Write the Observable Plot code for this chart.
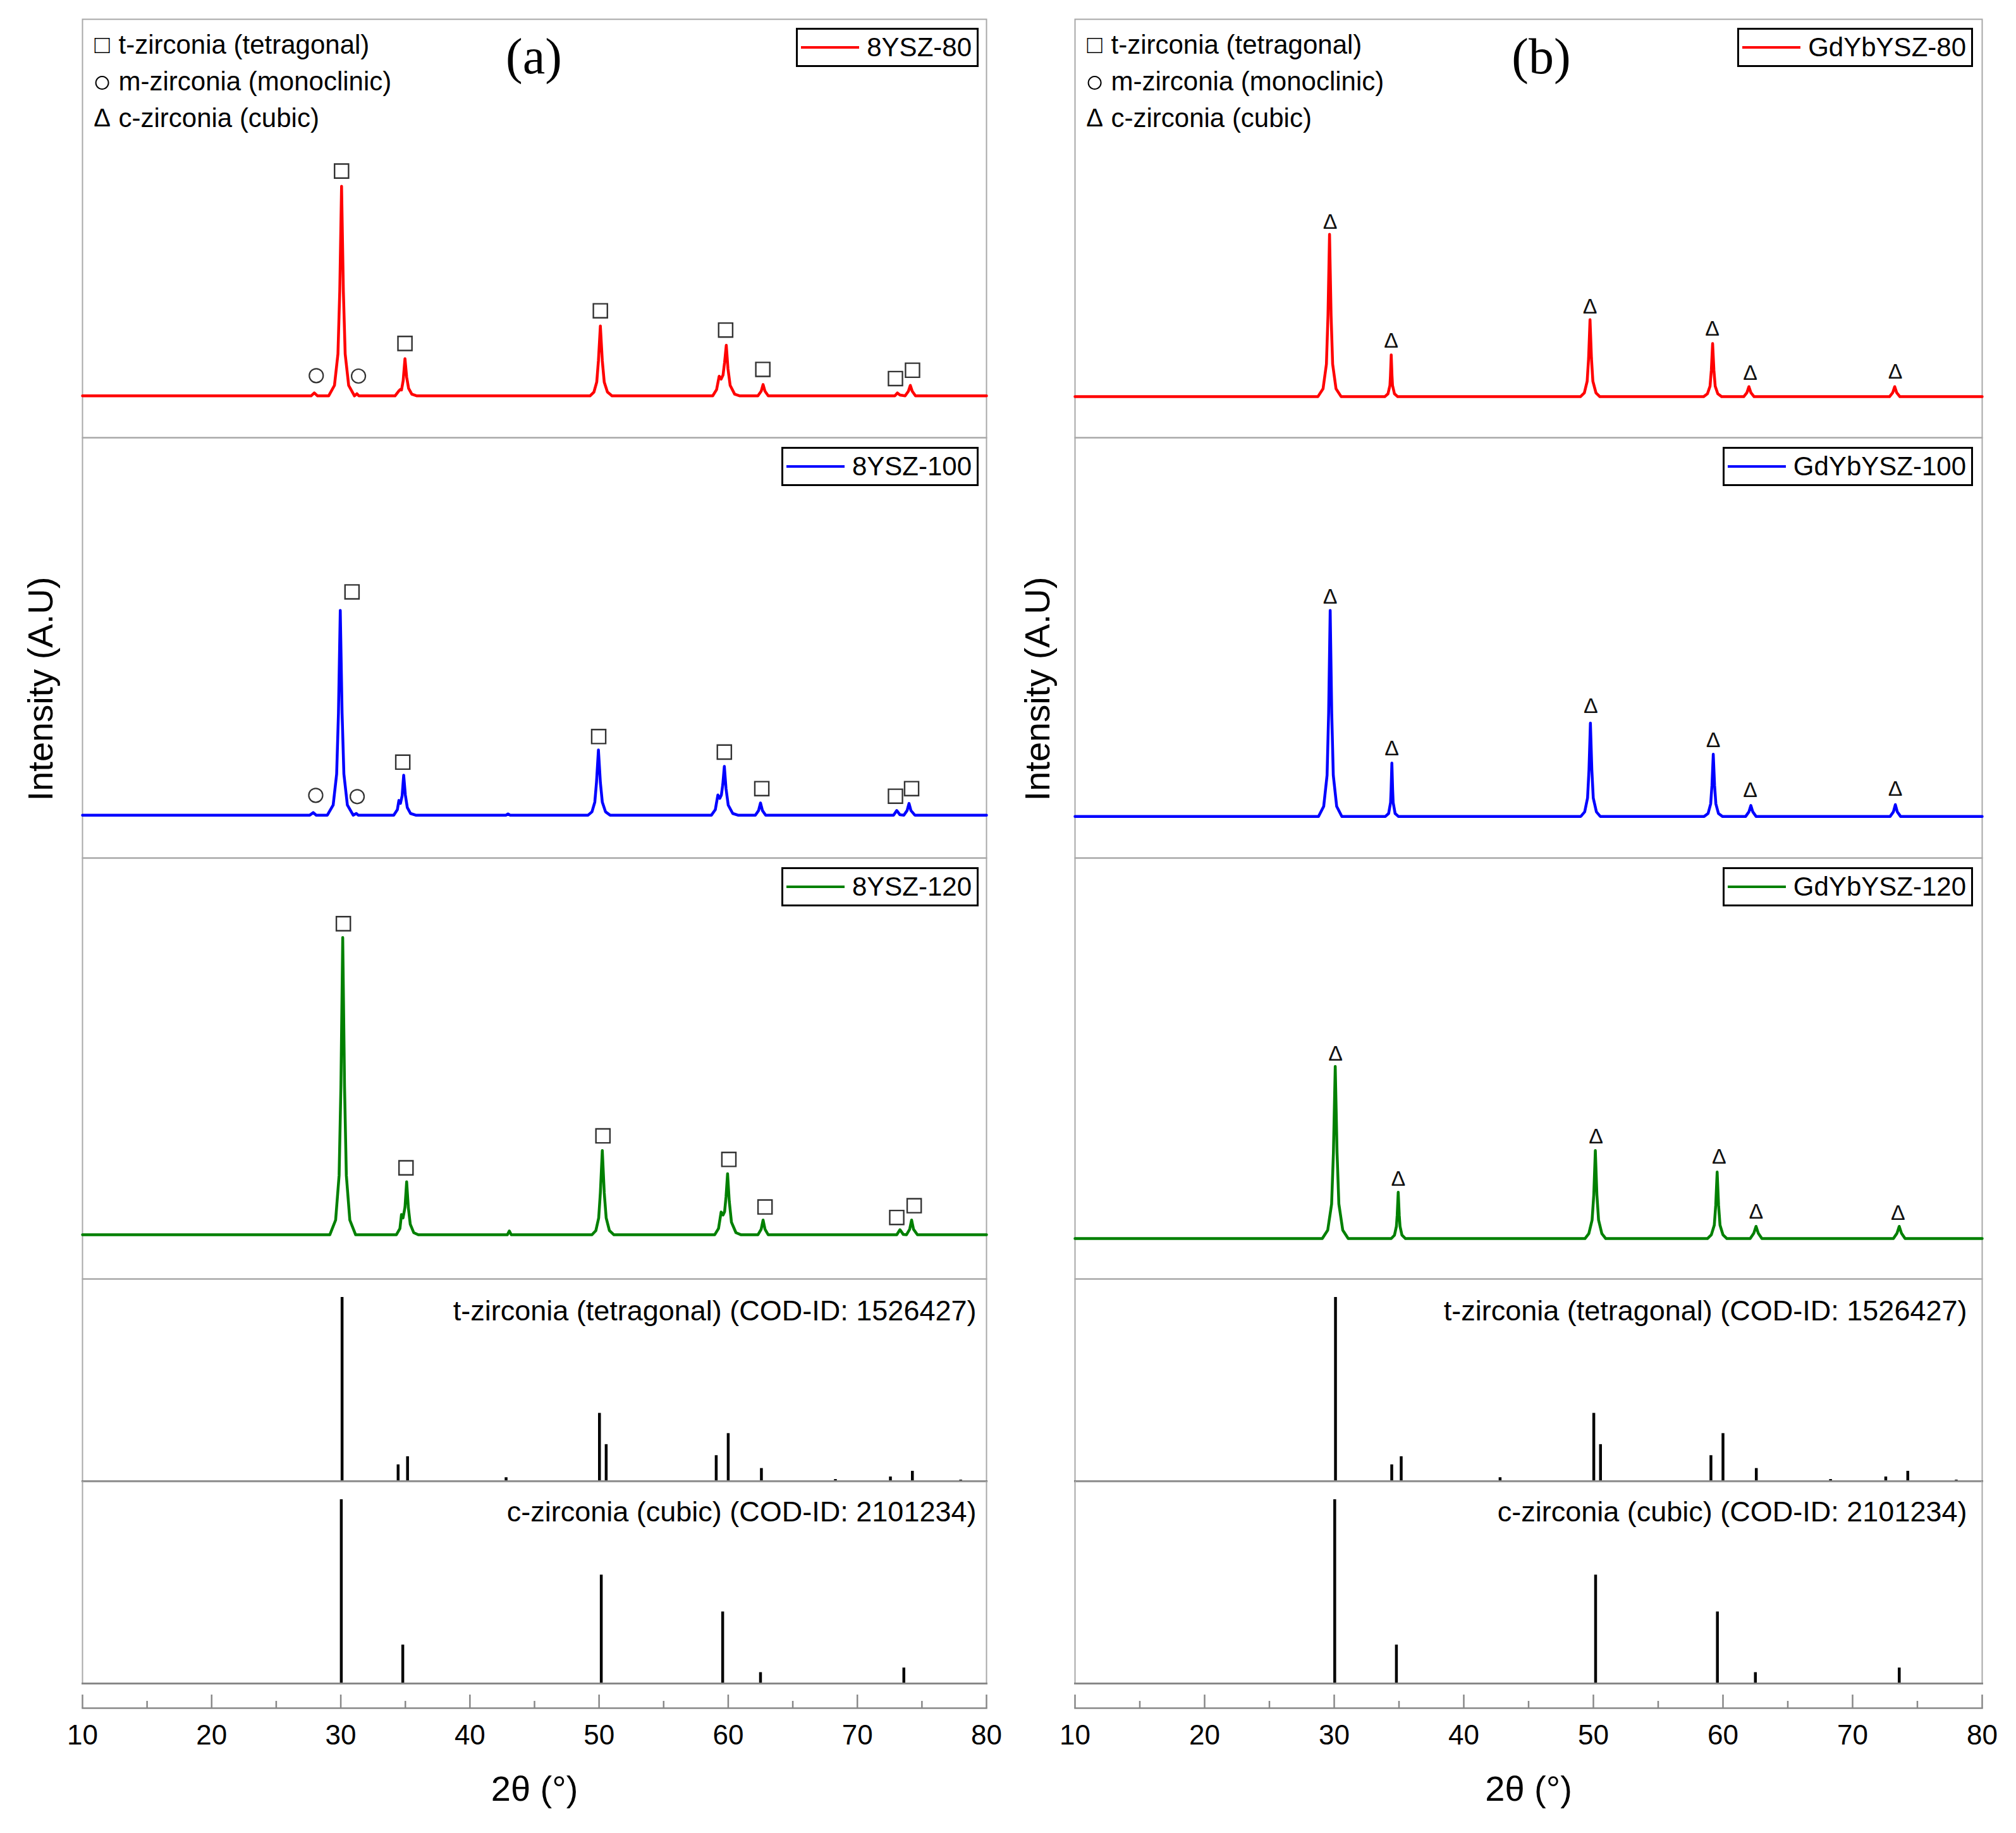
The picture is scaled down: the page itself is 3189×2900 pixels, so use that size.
<!DOCTYPE html>
<html>
<head>
<meta charset="utf-8">
<script src="https://cdn.jsdelivr.net/npm/d3@7"></script>
<script src="https://cdn.jsdelivr.net/npm/@observablehq/plot@0.6"></script>
<style>
  body { margin: 0; background: #fff; }
  #fig { position: relative; width: 3189px; height: 2900px; background: #fff; font-family: "Liberation Sans", Arial, sans-serif; color: #000; }
  .pane { position: absolute; }
  .legend { position: absolute; height: 62px; box-sizing: border-box; border: 3px solid #000; background: #fff;
            display: flex; align-items: center; padding: 0 8px 0 5px; font-size: 42px; line-height: 1; white-space: nowrap; }
  .legend .swatch { display: inline-block; width: 92px; height: 4px; margin-right: 12px; }
  .ylab { position: absolute; transform: translate(-50%, -50%) rotate(-90deg); font-size: 56px; white-space: nowrap; }
</style>
</head>
<body>
<div id="fig"></div>
<script>
// ---------------- data ----------------
const xTicks = [10, 20, 30, 40, 50, 60, 70, 80];
const xMinorTicks = [15, 25, 35, 45, 55, 65, 75];

const seriesA = ["8YSZ-80", "8YSZ-100", "8YSZ-120"];
const seriesB = ["GdYbYSZ-80", "GdYbYSZ-100", "GdYbYSZ-120"];

const phaseGlyphs = ["□", "○", "Δ"];
const phaseNames = ["t-zirconia (tetragonal)", "m-zirconia (monoclinic)", "c-zirconia (cubic)"];
const refLabels = ["t-zirconia (tetragonal) (COD-ID: 1526427)", "c-zirconia (cubic) (COD-ID: 2101234)"];

// XRD patterns: [2θ, intensity (a.u.)]
const ysz80 = [[10,10],[27.7,10],[27.95,10.7],[28.2,10],[29.06,10],[29.51,12.5],[29.78,20],[29.92,35],[30.06,60.1],[30.2,35],[30.34,20],[30.61,12.5],[31.06,10],[31.25,10.5],[31.4,10],
  [34.2,10],[34.5,11.2],[34.6,11.5],[34.7,11.4],[34.83,13.6],[34.97,18.9],[35.1,14.5],[35.25,11.8],[35.5,10.4],[35.9,10],
  [49.3,10],[49.6,10.9],[49.82,13.3],[49.95,18.4],[50.1,26.7],[50.25,18.4],[50.4,13.3],[50.65,10.9],[51.0,10],
  [58.8,10],[59.1,11.5],[59.3,14.7],[59.45,14],[59.6,15],[59.72,18],[59.85,22.1],[59.98,16.5],[60.15,12.5],[60.5,10.4],[60.9,10],
  [62.3,10],[62.55,11.1],[62.7,12.7],[62.85,11.1],[63.1,10],[72.9,10],[73.1,10.7],[73.3,10.2],[73.7,10],[73.95,11.1],[74.1,12.5],[74.25,11.1],[74.5,10],[80,10]];
const ysz100 = [[10,10.2],[27.6,10.2],[27.87,10.8],[28.1,10.2],[28.96,10.2],[29.41,12.6],[29.68,20],[29.82,34.5],[29.96,58.9],[30.1,34.5],[30.24,20],[30.51,12.6],[30.96,10.2],[31.2,10.6],[31.35,10.2],
  [34.1,10.2],[34.38,11.5],[34.5,13.7],[34.62,13],[34.75,14.8],[34.87,19.7],[35.0,15],[35.15,12],[35.4,10.6],[35.8,10.2],
  [42.8,10.2],[42.95,10.5],[43.1,10.2],
  [49.15,10.2],[49.45,11],[49.67,13.3],[49.8,18],[49.95,25.7],[50.1,18],[50.25,13.3],[50.5,11],[50.85,10.2],
  [58.7,10.2],[59.0,11.5],[59.2,15],[59.35,14.2],[59.47,15],[59.58,17.5],[59.7,21.8],[59.83,16.5],[60.0,12.6],[60.35,10.6],[60.75,10.2],
  [62.1,10.2],[62.35,11.3],[62.5,13.1],[62.65,11.3],[62.9,10.2],[72.8,10.2],[73.05,11.3],[73.3,10.3],[73.6,10.2],[73.85,11.3],[74.0,13.0],[74.15,11.3],[74.45,10.2],[80,10.2]];
const ysz120 = [[10,10.5],[29.15,10.5],[29.6,14],[29.87,24.6],[30.01,45.8],[30.15,81.1],[30.29,45.8],[30.43,24.6],[30.7,14],[31.15,10.5],
  [34.3,10.5],[34.58,12],[34.7,15.3],[34.82,14.5],[34.97,17],[35.1,23.1],[35.23,17],[35.38,13],[35.65,11],[36.0,10.5],
  [42.9,10.5],[43.05,11.4],[43.2,10.5],
  [49.45,10.5],[49.75,11.5],[49.97,14.5],[50.1,20.5],[50.25,30.5],[50.4,20.5],[50.55,14.5],[50.8,11.5],[51.15,10.5],
  [58.95,10.5],[59.25,12],[59.45,15.9],[59.6,15.2],[59.72,16],[59.83,19.5],[59.95,25],[60.08,18.5],[60.25,13.5],[60.6,11],[61.0,10.5],
  [62.3,10.5],[62.55,11.8],[62.7,14],[62.85,11.8],[63.1,10.5],[73.05,10.5],[73.3,11.7],[73.55,10.6],[73.8,10.5],[74.05,11.8],[74.2,14],[74.35,11.8],[74.65,10.5],[80,10.5]];
const gd80 = [[10,9.8],[28.74,9.8],[29.14,11.7],[29.4,17.6],[29.52,29.2],[29.64,48.6],[29.76,29.2],[29.88,17.6],[30.14,11.7],[30.54,9.8],
  [33.9,9.8],[34.15,10.5],[34.3,12.5],[34.34,14.8],[34.4,19.8],[34.46,14.8],[34.5,12.5],[34.65,10.5],[34.9,9.8],
  [49.0,9.8],[49.3,10.7],[49.52,13.5],[49.63,19],[49.74,28.2],[49.85,19],[49.96,13.5],[50.2,10.7],[50.5,9.8],
  [58.5,9.8],[58.8,10.5],[59.0,12.3],[59.1,16.1],[59.2,22.5],[59.3,16.1],[59.4,12.3],[59.6,10.5],[59.9,9.8],
  [61.6,9.8],[61.85,10.8],[62.0,12.2],[62.15,10.8],[62.4,9.8],[72.85,9.8],[73.1,10.8],[73.25,12.2],[73.4,10.8],[73.65,9.8],[80,9.8]];
const gd100 = [[10,9.9],[28.79,9.9],[29.19,12.3],[29.45,19.7],[29.57,34.4],[29.69,58.9],[29.81,34.4],[29.93,19.7],[30.19,12.3],[30.59,9.9],
  [33.95,9.9],[34.2,10.6],[34.35,13.2],[34.39,16.2],[34.45,22.6],[34.51,16.2],[34.55,13.2],[34.7,10.6],[34.95,9.9],
  [49.03,9.9],[49.33,11],[49.55,14.3],[49.66,21],[49.77,32.1],[49.88,21],[49.99,14.3],[50.23,11],[50.53,9.9],
  [58.55,9.9],[58.85,10.6],[59.05,12.9],[59.15,17.3],[59.25,24.7],[59.35,17.3],[59.45,12.9],[59.65,10.6],[59.95,9.9],
  [61.75,9.9],[62.0,11],[62.15,12.5],[62.3,11],[62.55,9.9],[72.9,9.9],[73.15,11],[73.3,12.7],[73.45,11],[73.7,9.9],[80,9.9]];
const gd120 = [[10,9.6],[29.08,9.6],[29.5,11.6],[29.8,17.8],[29.94,30],[30.08,50.5],[30.22,30],[30.36,17.8],[30.66,11.6],[31.08,9.6],
  [34.4,9.6],[34.65,10.4],[34.8,12.5],[34.86,15.1],[34.94,20.6],[35.02,15.1],[35.08,12.5],[35.23,10.4],[35.5,9.6],
  [49.35,9.6],[49.65,10.8],[49.9,14],[50.03,20],[50.15,30.5],[50.27,20],[50.4,14],[50.65,10.8],[50.95,9.6],
  [58.8,9.6],[59.1,10.5],[59.33,12.8],[59.44,17.5],[59.55,25.4],[59.66,17.5],[59.77,12.8],[60.0,10.5],[60.3,9.6],
  [62.1,9.6],[62.38,10.9],[62.55,12.5],[62.72,10.9],[63.0,9.6],[73.15,9.6],[73.43,10.9],[73.6,12.5],[73.77,10.9],[74.05,9.6],[80,9.6]];

// phase markers: [phase, 2θ, intensity under the marker]
const ysz80Marks = [["t",30.06,60.1],["t",34.97,18.9],["t",50.1,26.7],["t",59.8,22.1],["t",62.68,12.7],["t",72.95,10.5],["t",74.27,12.5],["m",28.1,11.2],["m",31.37,11.1]];
const ysz100Marks = [["t",30.87,59.7],["t",34.8,19.2],["t",49.97,25.3],["t",59.7,21.6],["t",62.6,12.9],["t",72.95,11.1],["t",74.2,12.9],["m",28.06,11.3],["m",31.27,11.0]];
const ysz120Marks = [["t",30.2,80.8],["t",35.05,22.8],["t",50.3,30.4],["t",60.05,24.8],["t",62.85,13.5],["t",73.05,11.0],["t",74.4,13.8]];
const gd80Marks = [["c",29.69,48.3],["c",34.4,19.9],["c",49.74,28.0],["c",59.18,22.7],["c",62.1,12.1],["c",73.3,12.4]];
const gd100Marks = [["c",29.69,58.9],["c",34.45,22.7],["c",49.8,32.8],["c",59.25,24.7],["c",62.1,12.8],["c",73.3,13.1]];
const gd120Marks = [["c",30.1,50.2],["c",34.94,20.5],["c",50.2,30.5],["c",59.7,25.8],["c",62.55,12.6],["c",73.5,12.4]];

// reference stick patterns: [2θ, relative intensity %]
const tSticks = [[30.1,100],[34.44,9],[35.17,13.4],[42.8,2],[50.03,37],[50.55,20],[59.07,14],[60.0,26],[62.57,7],[68.3,1],[72.56,2.4],[74.26,5.5],[78.0,0.7]];
const cSticks = [[30.04,100],[34.8,21],[50.17,59],[59.57,39],[62.5,6],[73.6,8.5]];

// ---------------- layout ----------------
const FONT = "Liberation Sans, Arial, sans-serif";
const tops = [30, 692, 1357, 2023, 2343];
const heights = [662, 665, 666, 320, 320];
const colors = ["#ff0000", "#0000ff", "#008000"];
const glyphSizes = [40, 50, 40];
const fig = document.getElementById("fig");

const columns = [
  {left: 130, width: 1430, tag: "(a)", tagDx: -1, names: seriesA, data: [ysz80, ysz100, ysz120], marks: [ysz80Marks, ysz100Marks, ysz120Marks], legendRight: 12, refRight: 16, ylabX: 63},
  {left: 1700, width: 1435, tag: "(b)", tagDx: 20, names: seriesB, data: [gd80, gd100, gd120], marks: [gd80Marks, gd100Marks, gd120Marks], legendRight: 14, refRight: 24, ylabX: 1640}
];

function place(el, left, top) {
  const d = document.createElement("div");
  d.className = "pane";
  d.style.left = left + "px";
  d.style.top = top + "px";
  d.appendChild(el);
  fig.appendChild(d);
  return d;
}

const baseStyle = {overflow: "visible", background: "transparent", fontFamily: FONT};

columns.forEach(col => {
  const PW = col.width;
  for (let i = 0; i < 3; i++) {
    const mk = col.marks[i];
    const marks = [
      Plot.frame({stroke: "#a8a8a8", strokeWidth: 2}),
      Plot.line(col.data[i], {x: d => d[0], y: d => d[1], stroke: colors[i], strokeWidth: 4.5, curve: "linear"}),
      Plot.dot(mk.filter(d => d[0] === "t"), {x: d => d[1], y: d => d[2], symbol: "square", r: 12.5, dy: -24, stroke: "#333", strokeWidth: 2.4, fill: "none"}),
      Plot.dot(mk.filter(d => d[0] === "m"), {x: d => d[1], y: d => d[2], symbol: "circle", r: 11, dy: -24, stroke: "#333", strokeWidth: 2.2, fill: "none"}),
      Plot.text(mk.filter(d => d[0] === "c"), {x: d => d[1], y: d => d[2], text: () => "Δ", dy: -22, lineAnchor: "middle", fontSize: 34, fill: "#111"})
    ];
    if (i === 0) {
      phaseNames.forEach((s, k) => {
        marks.push(Plot.text([phaseGlyphs[k]], {frameAnchor: "top-left", textAnchor: "middle", lineAnchor: "middle", dx: 31, dy: 41 + 58 * k, fontSize: glyphSizes[k]}));
        marks.push(Plot.text([s], {frameAnchor: "top-left", textAnchor: "start", lineAnchor: "middle", dx: 57, dy: 41 + 58 * k, fontSize: 42}));
      });
      marks.push(Plot.text([col.tag], {frameAnchor: "top", lineAnchor: "middle", dx: col.tagDx, dy: 60, fontSize: 80, fontFamily: "Liberation Serif, Times New Roman, serif"}));
    }
    const svg = Plot.plot({
      width: PW, height: heights[i], margin: 0,
      x: {domain: [10, 80], axis: null},
      y: {domain: [0, 100], axis: null},
      style: baseStyle,
      marks
    });
    const pane = place(svg, col.left, tops[i]);
    pane.style.width = PW + "px";
    pane.style.height = heights[i] + "px";
    const lg = document.createElement("div");
    lg.className = "legend";
    lg.style.right = col.legendRight + "px";
    lg.style.top = (i === 0 ? 14 : 15) + "px";
    lg.innerHTML = `<span class="swatch" style="background:${colors[i]}"></span><span>${col.names[i]}</span>`;
    pane.appendChild(lg);
  }
  [tSticks, cSticks].forEach((sticks, j) => {
    const svg = Plot.plot({
      width: PW, height: heights[3 + j], margin: 0,
      x: {domain: [10, 80], axis: null},
      y: {domain: [0, 110], axis: null},
      style: baseStyle,
      marks: [
        Plot.frame({stroke: "#a8a8a8", strokeWidth: 2}),
        Plot.ruleX(sticks, {x: d => d[0], y1: 0, y2: d => d[1], stroke: "#000", strokeWidth: 4.5}),
        Plot.frame({anchor: "bottom", stroke: j === 0 ? "#555" : "#888", strokeWidth: 3}),
        Plot.text([refLabels[j]], {frameAnchor: "top-right", textAnchor: "end", lineAnchor: "middle", dx: -col.refRight, dy: j === 0 ? 51 : 49, fontSize: 45})
      ]
    });
    place(svg, col.left, tops[3 + j]);
  });
  // x axis
  const ax = Plot.plot({
    width: PW, height: 21 + 200, marginTop: 0, marginBottom: 200, marginLeft: 0, marginRight: 0,
    x: {domain: [10, 80], axis: null},
    style: baseStyle,
    marks: [
      Plot.tickX(xTicks, {x: d => d, stroke: "#888", strokeWidth: 2.5}),
      Plot.tickX(xMinorTicks, {x: d => d, stroke: "#888", strokeWidth: 2.5, insetTop: 10}),
      Plot.frame({anchor: "bottom", stroke: "#888", strokeWidth: 2.5}),
      Plot.axisX(xTicks, {anchor: "bottom", tickSize: 0, tickPadding: 26, fontSize: 44, tickFormat: d => String(d), label: null}),
      Plot.text(["2θ (°)"], {frameAnchor: "bottom", lineAnchor: "middle", dy: 129, fontSize: 56})
    ]
  });
  place(ax, col.left, 2681);
  // y label
  const yl = document.createElement("div");
  yl.className = "ylab";
  yl.style.left = col.ylabX + "px";
  yl.style.top = "1090px";
  yl.textContent = "Intensity (A.U)";
  fig.appendChild(yl);
});
</script>
</body>
</html>
